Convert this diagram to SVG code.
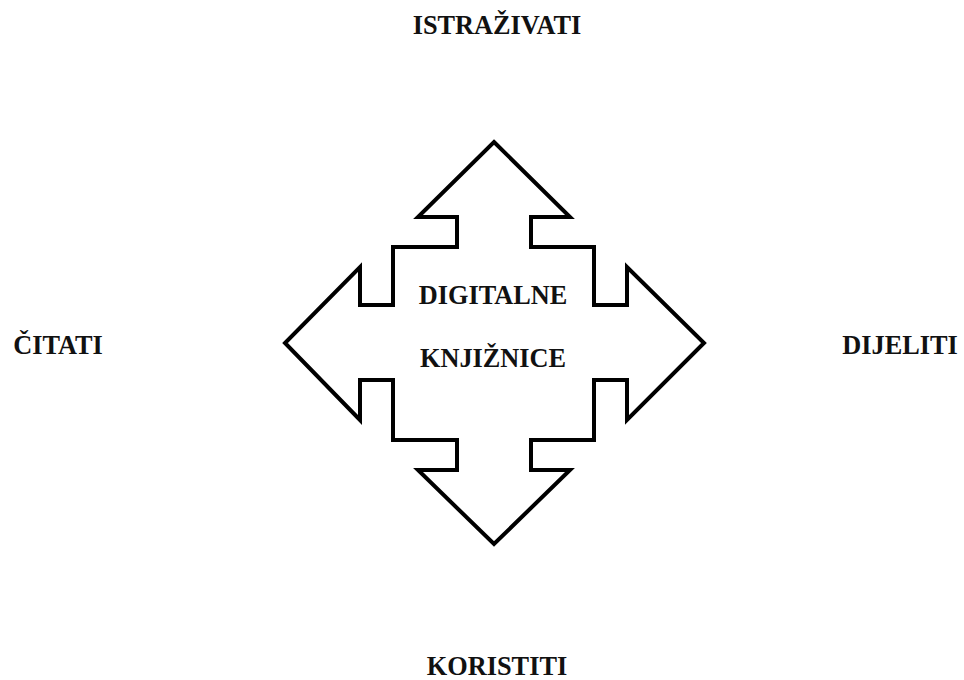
<svg xmlns="http://www.w3.org/2000/svg" width="964" height="680" viewBox="0 0 964 680">
<style>
.t{font-family:"Liberation Serif","Times New Roman",serif;font-weight:bold;font-size:26.3px;fill:#111;text-anchor:middle}
.shape{fill:#fff;stroke:#000;stroke-width:4;stroke-linejoin:miter}
</style>
<rect width="964" height="680" fill="#fff"/>
<g id="center">
<path class="shape" d="M494,142 L570,217 L531,217 L531,247 L594,247 L594,305 L627,305 L627,267 L704,343 L627,420 L627,380 L594,380 L594,440 L531,440 L531,470 L570,470 L494,544 L418,470 L457,470 L457,440 L393,440 L393,380 L360,380 L360,420 L285,343 L360,267 L360,305 L393,305 L393,247 L457,247 L457,217 L418,217 Z"/>
<text class="t" x="493" y="304">DIGITALNE</text>
<text class="t" x="493" y="367">KNJIŽNICE</text>
</g>
<g id="connectors"></g>
<g id="istrazivati"><text class="t" x="497" y="34">ISTRAŽIVATI</text></g>
<g id="citati"><text class="t" x="58" y="354">ČITATI</text></g>
<g id="dijeliti"><text class="t" x="900" y="354">DIJELITI</text></g>
<g id="koristiti"><text class="t" x="497" y="675">KORISTITI</text></g>
</svg>
